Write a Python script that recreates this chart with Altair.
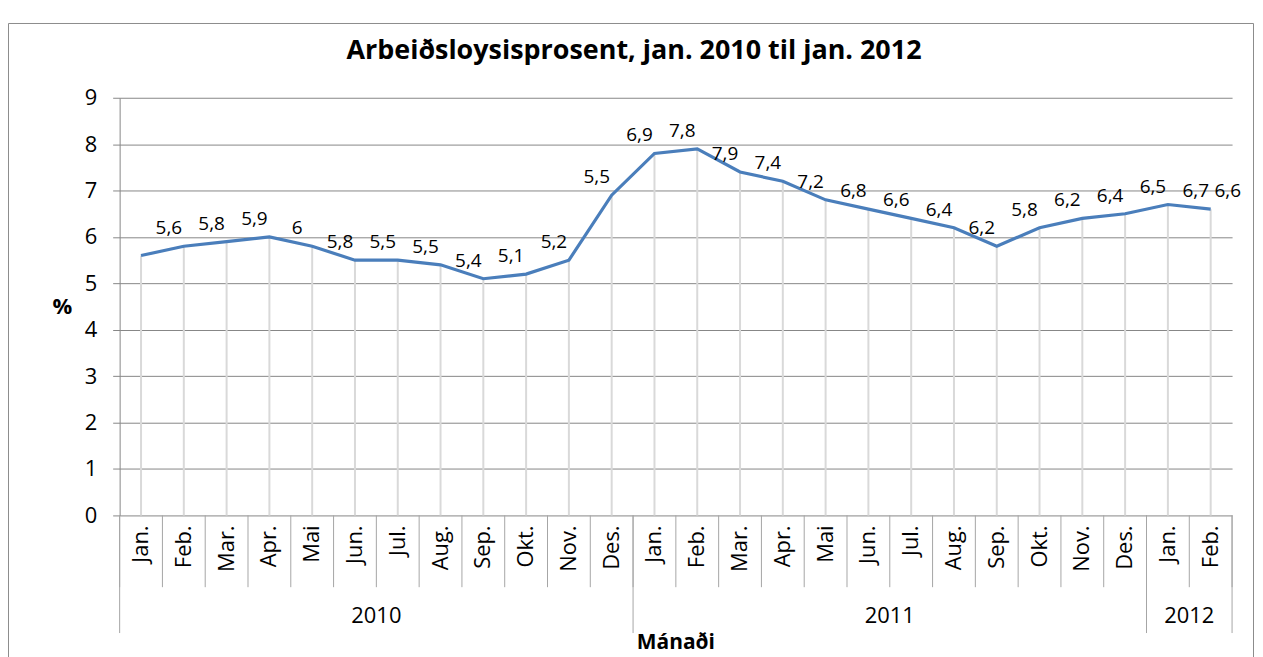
import altair as alt
import pandas as pd

title_text = "Arbeiðsloysisprosent, jan. 2010 til jan. 2012"
months = ["Jan.", "Feb.", "Mar.", "Apr.", "Mai", "Jun.", "Jul.", "Aug.", "Sep.", "Okt.", "Nov.", "Des.",
          "Jan.", "Feb.", "Mar.", "Apr.", "Mai", "Jun.", "Jul.", "Aug.", "Sep.", "Okt.", "Nov.", "Des.",
          "Jan.", "Feb."]
years = ["2010", "2011", "2012"]
year_counts = [12, 12, 2]
values = [5.6, 5.8, 5.9, 6.0, 5.8, 5.5, 5.5, 5.4, 5.1, 5.2, 5.5, 6.9,
          7.8, 7.9, 7.4, 7.2, 6.8, 6.6, 6.4, 6.2, 5.8, 6.2, 6.4, 6.5,
          6.7, 6.6]
labels = ["5,6", "5,8", "5,9", "6", "5,8", "5,5", "5,5", "5,4", "5,1", "5,2", "5,5", "6,9",
          "7,8", "7,9", "7,4", "7,2", "6,8", "6,6", "6,4", "6,2", "5,8", "6,2", "6,4", "6,5",
          "6,7", "6,6"]
y_ticks = list(range(10))

FONT = "Open Sans"
W, H = 1116, 419
n = len(months)

# data-driven tables
df = pd.DataFrame({
    "pos": [i + 0.5 for i in range(n)],
    "value": values,
    "month": months,
    "label": labels,
    # labels in the source sit above the following point
    "labx": [min(i + 1.15, n - 0.1) for i in range(n)],
    "laby": values[1:] + values[-1:],
})
bounds = [0]
for c in year_counts:
    bounds.append(bounds[-1] + c)
year_df = pd.DataFrame({
    "year": years,
    "center": [(bounds[k] + bounds[k + 1]) / 2 for k in range(len(years))],
})
year_bounds_df = pd.DataFrame({"b": bounds})
month_bounds_df = pd.DataFrame({"b": list(range(n + 1))})
one = pd.DataFrame({"a": [0]})

xs = alt.Scale(domain=[0, n], nice=False, zero=False)
ys = alt.Scale(domain=[0, 9], nice=False)
y_axis = alt.Axis(values=y_ticks, grid=True, gridColor="#878787", gridWidth=1,
                  domainColor="#878787", tickColor="#878787", tickSize=7,
                  labelFontSize=22, labelPadding=16, labelColor="black", labelFont=FONT,
                  title="%", titleAngle=0, titleFontSize=22, titleFontWeight="bold",
                  titleFont=FONT, titleColor="black",
                  titleX=-58, titleY=H / 2, titleAlign="center", titleBaseline="middle")

border = alt.Chart(one).mark_rect(fillOpacity=0, stroke="#8c8c8c", strokeWidth=1).encode(
    x=alt.value(-111.5), x2=alt.value(1137.5), y=alt.value(-74.5), y2=alt.value(700))

drop = alt.Chart(df).mark_rule(color="#d9d9d9", strokeWidth=2).encode(
    x=alt.X("pos:Q", scale=xs, axis=None),
    y=alt.Y("value:Q", scale=ys, axis=y_axis),
    y2=alt.datum(0))

line = alt.Chart(df).mark_line(color="#4a7ebb", strokeWidth=3.2).encode(
    x=alt.X("pos:Q", scale=xs, axis=None),
    y=alt.Y("value:Q", scale=ys, axis=y_axis))

lab = alt.Chart(df).mark_text(font=FONT, fontSize=19, color="black", dy=-18,
                              baseline="middle", align="center").encode(
    x=alt.X("labx:Q", scale=xs, axis=None),
    y=alt.Y("laby:Q", scale=ys, axis=y_axis),
    text="label:N")

msep = alt.Chart(month_bounds_df).mark_rule(color="#a6a6a6", strokeWidth=1).encode(
    x=alt.X("b:Q", scale=xs, axis=None), y=alt.value(H), y2=alt.value(H + 72))

ysep = alt.Chart(year_bounds_df).mark_rule(color="#a6a6a6", strokeWidth=1).encode(
    x=alt.X("b:Q", scale=xs, axis=None), y=alt.value(H), y2=alt.value(H + 118))

mlab = alt.Chart(df).mark_text(font=FONT, fontSize=22, color="black", angle=270,
                               align="right", baseline="middle").encode(
    x=alt.X("pos:Q", scale=xs, axis=None), y=alt.value(H + 10), text="month:N")

ylab = alt.Chart(year_df).mark_text(font=FONT, fontSize=22, color="black",
                                    align="center", baseline="middle").encode(
    x=alt.X("center:Q", scale=xs, axis=None), y=alt.value(H + 101), text="year:N")

xtitle = alt.Chart(one).mark_text(font=FONT, fontSize=21, fontWeight="bold", color="black",
                                  align="center", baseline="middle", text="Mánaði").encode(
    x=alt.value(W / 2), y=alt.value(H + 128))

title = alt.Chart(one).mark_text(font=FONT, fontSize=27, fontWeight="bold", color="black",
                                 align="center", baseline="middle", text=title_text).encode(
    x=alt.value(516), y=alt.value(-47))

chart = alt.layer(border, drop, line, lab, msep, ysep, mlab, ylab, xtitle, title).properties(
    width=W, height=H,
    autosize=alt.AutoSizeParams(type="none"),
    padding={"left": 112, "top": 89, "right": 23, "bottom": 141},
    background="white",
).configure_view(stroke=None).configure_axis(labelFont=FONT, titleFont=FONT)

chart.save("out.html", embed_options={"renderer": "svg", "actions": False})
